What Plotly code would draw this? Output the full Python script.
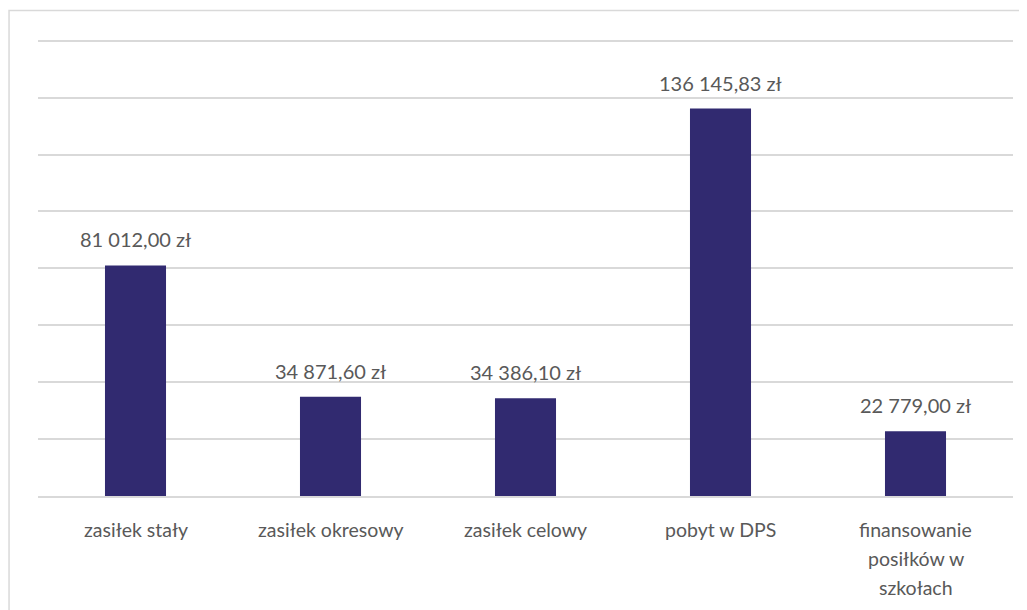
import plotly.graph_objects as go

categories = ["zasiłek stały", "zasiłek okresowy", "zasiłek celowy", "pobyt w DPS",
              "finansowanie<br>posiłków w<br>szkołach"]
values = [81012.00, 34871.60, 34386.10, 136145.83, 22779.00]
value_labels = ["81 012,00 zł", "34 871,60 zł", "34 386,10 zł", "136 145,83 zł", "22 779,00 zł"]
gridvals = [20000, 40000, 60000, 80000, 100000, 120000, 140000, 160000]

BAR = "#312A70"
TXT = "#595959"
GRID = "#D9D9D9"
FONT = "Lato, 'Open Sans', sans-serif"

fig = go.Figure(go.Bar(x=categories, y=values, marker=dict(color=BAR, line=dict(width=0)),
                       width=0.313, hoverinfo="skip"))

for c, v, t in zip(categories, values, value_labels):
    fig.add_annotation(x=c, y=v, text=t, showarrow=False, yanchor="bottom", yshift=12,
                       font=dict(family=FONT, size=20, color=TXT))

# category labels, one annotation per line to get the wider line spacing
for c in categories:
    for i, line in enumerate(c.split("<br>")):
        fig.add_annotation(x=c, y=0, text=line, showarrow=False, yanchor="middle",
                           yshift=-(33 + 29 * i), font=dict(family=FONT, size=19.5, color=TXT))

fig.add_shape(type="rect", xref="paper", yref="paper", x0=-0.0297, x1=1.05, y0=-0.3, y1=1.053,
              line=dict(color=GRID, width=1.5), fillcolor="rgba(0,0,0,0)", layer="below")

fig.update_layout(
    width=1027, height=610,
    margin=dict(l=30, r=22, t=27.3, b=122),
    paper_bgcolor="white", plot_bgcolor="white",
    showlegend=False,
    font=dict(family=FONT, size=20, color=TXT),
    xaxis=dict(showgrid=False, showline=True, linecolor=GRID, linewidth=1.5,
               ticks="", showticklabels=False),
    yaxis=dict(range=[0, 162000], tickvals=gridvals,
               showgrid=True, gridcolor=GRID, gridwidth=1.5,
               showticklabels=False, zeroline=False, showline=False),
)

fig.write_html("out.html")
